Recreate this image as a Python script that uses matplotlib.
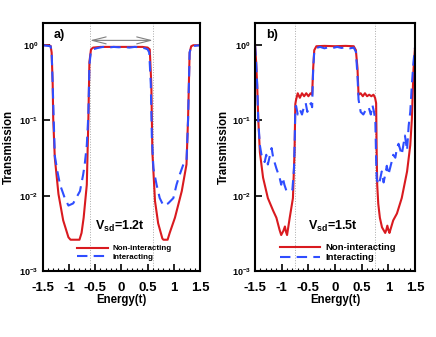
import numpy as np
import matplotlib
matplotlib.use('Agg')
import matplotlib.pyplot as plt

plt.rcParams['font.family'] = ['Liberation Sans', 'DejaVu Sans']
plt.rcParams['font.weight'] = 'bold'
plt.rcParams['mathtext.fontset'] = 'custom'
plt.rcParams['mathtext.rm'] = 'Liberation Sans:bold'
plt.rcParams['mathtext.bf'] = 'Liberation Sans:bold'
plt.rcParams['mathtext.default'] = 'bf'

# panel a (Vsd = 1.2t)
Ea_non = [-1.50, -1.40, -1.35, -1.33, -1.31, -1.30, -1.27, -1.20, -1.11, -1.01, -0.97, -0.80,
          -0.76, -0.72, -0.66, -0.63, -0.61, -0.58, -0.54, -0.40, 0.0, 0.40, 0.50, 0.54,
          0.57, 0.59, 0.64, 0.70, 0.78, 0.80, 0.88, 0.92, 1.02, 1.15, 1.24, 1.27, 1.30,
          1.33, 1.37, 1.50]
Ta_non = [1.0, 1.0, 0.98, 0.8, 0.3, 0.105, 0.032, 0.0105, 0.0047, 0.0028, 0.0026, 0.0026,
          0.0032, 0.0051, 0.014, 0.105, 0.6, 0.88, 0.93, 0.95, 0.95, 0.95, 0.93, 0.88,
          0.3, 0.038, 0.0085, 0.0043, 0.0027, 0.0026, 0.0026, 0.0032, 0.0051, 0.0115, 0.026, 0.105, 0.8,
          0.97, 1.0, 1.0]
Ea_int = [-1.50, -1.35, -1.33, -1.31, -1.29, -1.27, -1.22, -1.17, -1.08, -1.01, -0.92, -0.79,
          -0.73, -0.70, -0.66, -0.63, -0.61, -0.58, -0.55, -0.50, -0.45, -0.35, -0.25, -0.15,
          -0.05, 0.05, 0.15, 0.25, 0.35, 0.45, 0.50, 0.53, 0.56, 0.58, 0.61, 0.67, 0.73,
          0.80, 0.89, 0.99, 1.05, 1.11, 1.18, 1.24, 1.27, 1.30, 1.33, 1.50]
Ta_int = [1.0, 0.97, 0.8, 0.3, 0.1, 0.034, 0.021, 0.014, 0.0093, 0.0074, 0.0079, 0.0115,
          0.019, 0.026, 0.047, 0.12, 0.55, 0.85, 0.88, 0.9, 0.92, 0.95, 0.93, 0.95,
          0.94, 0.95, 0.93, 0.95, 0.94, 0.91, 0.88, 0.8, 0.3, 0.06, 0.023, 0.014, 0.0093,
          0.0074, 0.0079, 0.0093, 0.014, 0.019, 0.026, 0.028, 0.1, 0.8, 0.97, 1.0]

# panel b (Vsd = 1.5t)
Eb_non = [-1.50, -1.48, -1.46, -1.44, -1.41, -1.35, -1.26, -1.16, -1.10, -1.04, -1.01, -0.97,
          -0.94, -0.92, -0.90, -0.85, -0.79, -0.76, -0.745, -0.73, -0.70, -0.66, -0.62, -0.58,
          -0.54, -0.50, -0.46, -0.43, -0.41, -0.39, -0.35, -0.20, 0.0, 0.20, 0.35, 0.39,
          0.42, 0.44, 0.48, 0.52, 0.56, 0.60, 0.64, 0.68, 0.72, 0.75, 0.77, 0.78, 0.79,
          0.81, 0.84, 0.88, 0.94, 0.96, 0.98, 1.00, 1.02, 1.09, 1.16, 1.25, 1.35, 1.41,
          1.44, 1.47, 1.50]
Tb_non = [1.0, 0.6, 0.29, 0.105, 0.038, 0.0174, 0.0093, 0.0063, 0.0051, 0.0035, 0.0030, 0.0034,
          0.0039, 0.0033, 0.0030, 0.0051, 0.0093, 0.038, 0.166, 0.19, 0.23, 0.2, 0.23, 0.21,
          0.23, 0.21, 0.23, 0.22, 0.5, 0.86, 0.97, 0.98, 0.97, 0.98, 0.97, 0.86,
          0.5, 0.22, 0.23, 0.21, 0.23, 0.21, 0.22, 0.21, 0.22, 0.2, 0.17, 0.038, 0.014,
          0.0078, 0.0051, 0.0038, 0.0032, 0.0035, 0.0040, 0.0035, 0.0032, 0.0047, 0.0058, 0.0093, 0.021, 0.047,
          0.105, 0.47, 0.95]
Eb_int = [-1.50, -1.48, -1.46, -1.44, -1.41, -1.38, -1.32, -1.29, -1.26, -1.19, -1.16, -1.10,
          -1.04, -1.01, -0.98, -0.95, -0.91, -0.85, -0.80, -0.77, -0.755, -0.745, -0.73, -0.70,
          -0.66, -0.62, -0.58, -0.55, -0.52, -0.48, -0.45, -0.43, -0.41, -0.39, -0.35, -0.28,
          -0.20, -0.12, -0.04, 0.04, 0.12, 0.20, 0.28, 0.35, 0.39, 0.42, 0.44, 0.48, 0.53,
          0.58, 0.63, 0.67, 0.70, 0.73, 0.755, 0.77, 0.78, 0.81, 0.84, 0.875, 0.91, 0.94,
          0.97, 1.00, 1.06, 1.09, 1.13, 1.16, 1.19, 1.25, 1.28, 1.31, 1.35, 1.38, 1.41,
          1.44, 1.47, 1.50]
Tb_int = [1.0, 0.6, 0.3, 0.1, 0.047, 0.035, 0.028, 0.035, 0.026, 0.043, 0.032, 0.023,
          0.0174, 0.014, 0.0174, 0.014, 0.0115, 0.0115, 0.012, 0.023, 0.06, 0.15, 0.156, 0.12,
          0.14, 0.12, 0.155, 0.17, 0.13, 0.16, 0.17, 0.15, 0.5, 0.82, 0.92, 0.95,
          0.91, 0.94, 0.92, 0.95, 0.92, 0.94, 0.91, 0.93, 0.82, 0.4, 0.19, 0.13, 0.12,
          0.14, 0.15, 0.12, 0.16, 0.13, 0.1, 0.03, 0.017, 0.014, 0.016, 0.021, 0.015, 0.019,
          0.025, 0.019, 0.028, 0.035, 0.032, 0.043, 0.049, 0.035, 0.047, 0.063, 0.04, 0.085, 0.13,
          0.3, 0.6, 0.95]

xticks = [-1.5, -1, -0.5, 0, 0.5, 1, 1.5]
xticklabels = ['-1.5', '-1', '-0.5', '0', '0.5', '1', '1.5']
yticks = [1e-3, 1e-2, 1e-1, 1]
yticklabels = [r'$10^{-3}$', r'$10^{-2}$', r'$10^{-1}$', r'$10^{0}$']

red = '#d91a1f'
blue = '#2f4dff'

fig = plt.figure(figsize=(4.36, 3.37), dpi=100)
ax_a = fig.add_axes([0.098, 0.196, 0.361, 0.737])
ax_b = fig.add_axes([0.585, 0.196, 0.367, 0.737])

panels = [
    (ax_a, Ea_non, Ta_non, Ea_int, Ta_int, 0.6, 'a)', '1.2', 5.8, 3.9, -0.176, (0.17, 0.01)),
    (ax_b, Eb_non, Tb_non, Eb_int, Tb_int, 0.75, 'b)', '1.5', 6.8, 4.3, -0.156, (0.1, 0.0)),
]

for ax, en, tn, ei, ti, vline, tag, vsd, lfs, hl, ylx, lpos in panels:
    ax.plot(en, tn, color=red, lw=1.5, label='Non-interacting')
    ax.plot(ei, ti, color=blue, lw=1.5, ls=(0, (5, 3)), label='Interacting')
    ax.set_yscale('log')
    ax.set_xlim(-1.5, 1.5)
    ax.set_ylim(1e-3, 2)
    ax.axvline(-vline, color='#aaaaaa', ls=':', lw=0.7, zorder=0)
    ax.axvline(vline, color='#aaaaaa', ls=':', lw=0.7, zorder=0)
    ax.set_xticks(xticks)
    ax.set_xticklabels(xticklabels, fontsize=9.5, fontweight='bold')
    ax.set_xticks(np.arange(-1.5, 1.51, 0.1), minor=True)
    ax.yaxis.set_minor_locator(matplotlib.ticker.NullLocator())
    ax.set_yticks(yticks)
    ax.set_yticklabels(yticklabels, fontsize=6.5)
    ax.tick_params(axis='x', which='major', direction='in', length=5, width=1.2, pad=8)
    ax.tick_params(axis='x', which='minor', direction='in', length=2.5, width=0.8)
    ax.tick_params(axis='y', which='major', direction='in', length=5, width=1.2, pad=3)
    for s in ax.spines.values():
        s.set_linewidth(1.5)
    ax.set_xlabel('Energy(t)', fontsize=8.3, fontweight='bold', labelpad=0)
    ax.set_ylabel('Transmission', fontsize=8.3, fontweight='bold')
    ax.yaxis.set_label_coords(ylx, 0.5)
    ax.text(0.07, 0.975, tag, transform=ax.transAxes, fontsize=9, fontweight='bold',
            va='top', ha='left')
    ax.text(0.33, 0.18, r'V$_{sd}$=' + vsd + 't', transform=ax.transAxes, fontsize=9,
            fontweight='bold', va='center', ha='left')
    ax.legend(loc='lower left', bbox_to_anchor=lpos,
              frameon=False, handlelength=hl, labelspacing=0.15,
              handletextpad=0.6, prop={'weight': 'bold', 'size': lfs})

ax_a.annotate('', xy=(0.6, 1.16), xytext=(-0.6, 1.16),
              arrowprops=dict(arrowstyle='<->,head_length=1.0,head_width=0.25',
                              color='gray', lw=0.8, shrinkA=0, shrinkB=0))

fig.savefig('out.png', dpi=100)
